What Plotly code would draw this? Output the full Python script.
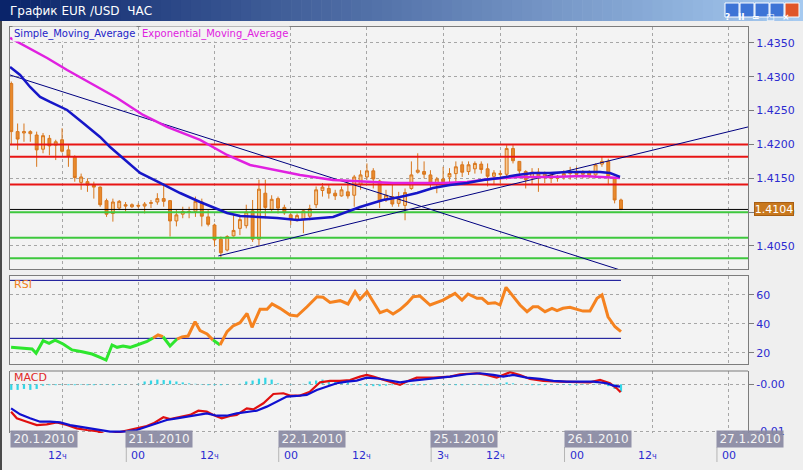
import plotly.graph_objects as go

W, H = 803, 470
FONT = "DejaVu Sans"

# ---------------- data ----------------
hours = list(range(4, 101))  # hourly candle index (0 = 20.1.2010 00:00)
open_ = [1.4290, 1.4219, 1.4217, 1.4216, 1.4214, 1.4193, 1.4209, 1.4199, 1.4207, 1.4192,
         1.4182, 1.4144, 1.4145, 1.4140, 1.4137, 1.4117, 1.4098, 1.4106, 1.4111, 1.4108,
         1.4110, 1.4109, 1.4113, 1.4115, 1.4120, 1.4117, 1.4087, 1.4097, 1.4100, 1.4101,
         1.4115, 1.4093, 1.4081, 1.4060, 1.4044, 1.4065, 1.4076, 1.4080, 1.4102, 1.4060,
         1.4128, 1.4104, 1.4120, 1.4107, 1.4096, 1.4089, 1.4089, 1.4094, 1.4111, 1.4132,
         1.4135, 1.4128, 1.4124, 1.4130, 1.4125, 1.4141, 1.4152, 1.4161, 1.4146, 1.4118,
         1.4123, 1.4113, 1.4110, 1.4135, 1.4159, 1.4160, 1.4155, 1.4143, 1.4149, 1.4152,
         1.4157, 1.4170, 1.4160, 1.4164, 1.4171, 1.4164, 1.4153, 1.4157, 1.4156, 1.4194,
         1.4175, 1.4160, 1.4152, 1.4159, 1.4151, 1.4155, 1.4150, 1.4153, 1.4157, 1.4158,
         1.4156, 1.4159, 1.4155, 1.4171, 1.4175, 1.4151, 1.4118]
high = [1.4293, 1.4231, 1.4231, 1.4221, 1.4219, 1.4217, 1.4214, 1.4207, 1.4224, 1.4199,
        1.4184, 1.4157, 1.4150, 1.4145, 1.4138, 1.4120, 1.4120, 1.4118, 1.4115, 1.4113,
        1.4113, 1.4115, 1.4118, 1.4128, 1.4143, 1.4118, 1.4103, 1.4108, 1.4108, 1.4123,
        1.4120, 1.4103, 1.4083, 1.4064, 1.4066, 1.4096, 1.4096, 1.4111, 1.4118, 1.4148,
        1.4148, 1.4125, 1.4123, 1.4111, 1.4098, 1.4098, 1.4103, 1.4111, 1.4138, 1.4143,
        1.4140, 1.4133, 1.4138, 1.4145, 1.4155, 1.4162, 1.4172, 1.4165, 1.4148, 1.4133,
        1.4143, 1.4130, 1.4135, 1.4175, 1.4187, 1.4175, 1.4162, 1.4152, 1.4167, 1.4165,
        1.4175, 1.4175, 1.4175, 1.4175, 1.4175, 1.4172, 1.4162, 1.4162, 1.4199, 1.4199,
        1.4175, 1.4162, 1.4165, 1.4165, 1.4160, 1.4157, 1.4155, 1.4162, 1.4167, 1.4167,
        1.4162, 1.4162, 1.4172, 1.4182, 1.4179, 1.4152, 1.4120]
low = [1.4199, 1.4192, 1.4204, 1.4204, 1.4167, 1.4187, 1.4184, 1.4177, 1.4188, 1.4167,
       1.4145, 1.4133, 1.4130, 1.4120, 1.4108, 1.4093, 1.4086, 1.4103, 1.4101, 1.4106,
       1.4106, 1.4098, 1.4106, 1.4111, 1.4108, 1.4064, 1.4079, 1.4091, 1.4091, 1.4093,
       1.4079, 1.4079, 1.4049, 1.4032, 1.4042, 1.4064, 1.4066, 1.4076, 1.4056, 1.4051,
       1.4091, 1.4101, 1.4098, 1.4096, 1.4081, 1.4086, 1.4069, 1.4088, 1.4106, 1.4123,
       1.4120, 1.4118, 1.4123, 1.4120, 1.4108, 1.4133, 1.4148, 1.4135, 1.4106, 1.4115,
       1.4108, 1.4108, 1.4088, 1.4133, 1.4157, 1.4150, 1.4135, 1.4128, 1.4138, 1.4140,
       1.4145, 1.4152, 1.4155, 1.4157, 1.4157, 1.4138, 1.4140, 1.4143, 1.4148, 1.4172,
       1.4150, 1.4135, 1.4140, 1.4130, 1.4143, 1.4143, 1.4145, 1.4148, 1.4148, 1.4150,
       1.4150, 1.4150, 1.4150, 1.4167, 1.4140, 1.4113, 1.4103]
close = [1.4219, 1.4208, 1.4219, 1.4219, 1.4192, 1.4213, 1.4198, 1.4204, 1.4190, 1.4183,
         1.4151, 1.4152, 1.4140, 1.4137, 1.4111, 1.4097, 1.4115, 1.4116, 1.4109, 1.4111,
         1.4109, 1.4112, 1.4114, 1.4120, 1.4116, 1.4087, 1.4096, 1.4101, 1.4101, 1.4116,
         1.4094, 1.4082, 1.4059, 1.4040, 1.4064, 1.4073, 1.4089, 1.4100, 1.4060, 1.4134,
         1.4107, 1.4119, 1.4106, 1.4099, 1.4089, 1.4095, 1.4102, 1.4105, 1.4133, 1.4137,
         1.4128, 1.4124, 1.4133, 1.4124, 1.4152, 1.4155, 1.4161, 1.4149, 1.4116, 1.4125,
         1.4112, 1.4120, 1.4129, 1.4155, 1.4162, 1.4156, 1.4141, 1.4149, 1.4145, 1.4157,
         1.4167, 1.4159, 1.4170, 1.4172, 1.4163, 1.4153, 1.4158, 1.4156, 1.4194, 1.4176,
         1.4161, 1.4148, 1.4159, 1.4151, 1.4156, 1.4150, 1.4153, 1.4157, 1.4159, 1.4156,
         1.4159, 1.4153, 1.4170, 1.4175, 1.4153, 1.4118, 1.4104]

sma_t = [3.81, 5.39, 6.96, 8.54, 10.11, 12.79, 15.31, 17.98, 19.56, 21.60,
         24.28, 27.43, 30.58, 33.73, 35.77, 37.98, 40.02, 43.17, 45.85, 49.0,
         54.66, 58.91, 62.53, 65.21, 67.89, 70.41, 73.08, 75.76, 78.28, 80.96,
         83.63, 86.15, 88.83, 91.50, 94.02, 96.70, 98.27, 99.85]
sma_v = [1.43145, 1.43027, 1.42850, 1.42702, 1.42628, 1.42510, 1.42318, 1.42111, 1.41963, 1.41801,
         1.41579, 1.41431, 1.41283, 1.41150, 1.41076, 1.40988, 1.40943, 1.40929, 1.40914, 1.40884,
         1.40929, 1.41076, 1.41180, 1.41224, 1.41283, 1.41357, 1.41402, 1.41431, 1.41476, 1.41505,
         1.41549, 1.41579, 1.41579, 1.41594, 1.41594, 1.41594, 1.41579, 1.41520]

ema_t = [3.81, 9.64, 12.79, 16.41, 20.66, 24.75, 28.53, 33.73, 37.98, 41.6, 45.85, 49.47,
         54.66, 60.02, 64.11, 67.89, 71.98, 75.76, 79.38, 83.63, 88.83, 94.02, 99.85]
ema_v = [1.43574, 1.43278, 1.43101, 1.42909, 1.42687, 1.42436, 1.42259, 1.42067, 1.41845, 1.41697,
         1.41623, 1.41549, 1.41476, 1.41446, 1.41431, 1.41431, 1.41431, 1.41446, 1.41490, 1.41520,
         1.41520, 1.41535, 1.41505]

trend_down_t = [3.8, 99.85]
trend_down_v = [1.43027, 1.40146]
trend_up_t = [36.6, 120.0]
trend_up_v = [1.40353, 1.42259]

resistance_levels = [1.4200, 1.4182, 1.4141]
support_levels = [1.4100, 1.4062, 1.4032]
last_price = 1.4104
price_ticks = [1.4050, 1.4100, 1.4150, 1.4200, 1.4250, 1.4300, 1.4350]

rsi_t = [3.97, 5.39, 7.28, 7.91, 9.01, 9.95, 10.90, 12.16, 13.57, 15.15,
         16.72, 17.98, 18.93, 19.87, 20.66, 21.60, 22.71, 23.81, 25.38, 26.33,
         27.11, 27.90, 29.00, 30.10, 30.89, 31.84, 32.94, 33.73, 34.83, 35.77,
         36.87, 37.98, 38.92, 40.02, 41.12, 41.91, 43.17, 44.27, 45.06, 46.32,
         47.89, 49.00, 50.57, 52.14, 53.09, 54.19, 55.77, 57.02, 58.13, 58.91,
         60.02, 60.96, 62.06, 63.16, 64.11, 65.21, 66.31, 67.26, 68.36, 69.94,
         71.98, 73.87, 74.97, 75.92, 77.33, 78.12, 79.07, 80.17, 80.96, 81.90,
         83.00, 84.10, 85.21, 86.15, 86.94, 88.04, 89.14, 89.93, 90.87, 91.97,
         93.08, 94.02, 95.12, 96.23, 97.01, 97.96, 99.06, 100.0]
rsi_v = [23.8, 23.1, 22.6, 19.7, 28.4, 26.5, 28.8, 26.1, 22.0, 20.8,
         19.2, 16.9, 15.0, 25.4, 23.8, 24.7, 23.8, 25.4, 27.9, 30.2,
         32.3, 31.1, 24.7, 29.5, 31.0, 31.6, 41.5, 35.3, 33.0, 28.8,
         25.4, 34.6, 38.5, 40.8, 47.2, 37.6, 50.0, 50.0, 53.7, 50.7,
         46.1, 45.4, 51.8, 58.7, 58.3, 54.8, 56.0, 53.7, 62.2, 56.9,
         62.2, 55.3, 47.7, 49.5, 46.8, 49.8, 54.1, 58.7, 59.2, 53.0,
         56.4, 61.0, 56.4, 60.6, 57.6, 57.6, 54.1, 54.6, 53.0, 65.2,
         58.7, 53.0, 48.4, 51.8, 51.8, 48.4, 50.7, 49.1, 50.7, 51.4,
         50.0, 48.8, 48.8, 57.6, 59.9, 44.9, 38.0, 34.6]
rsi_upper, rsi_lower = 70, 30
rsi_ticks = [20, 40, 60]

macd_t = [3.97, 4.87, 6.44, 8.02, 9.59, 11.17, 12.74, 14.31, 15.89, 17.46,
          19.04, 20.61, 22.19, 23.76, 25.33, 26.38, 27.95, 29.0, 30.58, 32.15,
          33.46, 34.78, 35.82, 37.14, 38.45, 39.5, 41.08, 42.12, 43.7, 45.27,
          46.84, 47.89, 49.47, 51.04, 52.62, 54.19, 55.77, 57.34, 58.91, 59.97,
          61.0, 62.59, 64.16, 65.21, 66.26, 67.84, 70.46, 73.08, 74.66, 77.29,
          78.86, 80.43, 82.53, 84.1, 85.68, 87.77, 90.4, 93.03, 95.12, 96.7,
          98.27, 99.33, 99.95]
macd_v = [-0.00293, -0.00364, -0.00400, -0.00436, -0.00428, -0.00407, -0.00436, -0.00471, -0.00489, -0.00500,
          -0.00543, -0.00518, -0.00500, -0.00471, -0.00446, -0.00418, -0.00353, -0.00371, -0.00346, -0.00328,
          -0.00282, -0.00293, -0.00328, -0.00364, -0.00339, -0.00328, -0.00257, -0.00268, -0.00203, -0.00104,
          -0.00096, -0.00121, -0.00121, -0.00079, 0.00021, 0.00036, 0.00036, 0.00046, 0.00082, 0.00100,
          0.00082, 0.00046, 0.00011, -0.00007, 0.00029, 0.00071, 0.00071, 0.00082, 0.00107, 0.00118,
          0.00100, 0.00071, 0.00129, 0.00100, 0.00057, 0.00036, 0.00029, 0.00021, 0.00021, 0.00046,
          0.00011, -0.00043, -0.00086]
signal_t = [3.97, 5.39, 6.96, 8.54, 10.11, 11.69, 13.26, 14.83, 16.41, 17.98,
            19.56, 21.13, 22.19, 23.76, 25.33, 26.91, 28.48, 30.06, 31.63, 33.21,
            34.78, 36.36, 37.93, 39.5, 41.08, 42.65, 44.23, 45.8, 47.38, 48.95,
            50.52, 52.1, 53.67, 55.25, 56.82, 58.39, 59.97, 61.54, 63.12, 65.21,
            66.79, 68.36, 70.46, 73.08, 75.71, 77.8, 79.9, 81.47, 83.05, 85.15,
            87.25, 89.35, 91.45, 93.55, 95.64, 97.75, 98.8, 99.85]
signal_v = [-0.00257, -0.00321, -0.00364, -0.00400, -0.00400, -0.00407, -0.00436, -0.00453, -0.00471, -0.00489,
            -0.00507, -0.00507, -0.00503, -0.00489, -0.00453, -0.00418, -0.00382, -0.00364, -0.00346, -0.00328,
            -0.00311, -0.00336, -0.00336, -0.00311, -0.00293, -0.00282, -0.00239, -0.00186, -0.00132, -0.00125,
            -0.00114, -0.00061, -0.00025, 0.00011, 0.00029, 0.00039, 0.00071, 0.00064, 0.00046, 0.00021,
            0.00036, 0.00046, 0.00064, 0.00082, 0.00107, 0.00118, 0.00100, 0.00082, 0.00100, 0.00071,
            0.00057, 0.00036, 0.00029, 0.00029, 0.00029, 0.00011, -0.00014, -0.00025]
macd_hist = [-0.0006, -0.0006, -0.0005, -0.0006, -0.0005,
             -0.00015, -0.0001, -0.0001, -0.00005, -0.0001, -0.0001, -0.00005, -0.0001,
             -0.0001, -0.00005, -0.00005, -0.0001, -0.00005, -0.00005, 0.0, 0.00005,
             0.0003, 0.0004, 0.0005, 0.00045, 0.0004, 0.0003, 0.0002,
             0.0001, 0.00005, -0.00005, -0.0001, -0.0001, -0.0001, -0.00005, 0.0, 0.00005,
             0.0003, 0.0004, 0.0006, 0.0007, 0.0005,
             0.0001, 0.0, -0.00005, 0.0, 0.00005,
             0.0003, 0.0004, 0.0005, 0.0004, 0.0004, 0.0003, 0.0002,
             0.0, -0.0001, -0.00015, -0.0002, -0.0002, -0.00015, -0.0001,
             0.0, -0.00005, -0.0001, -0.0001, -0.0001, -0.00005, 0.0, -0.00005,
             -0.00005, -0.0001, -0.0001, -0.00005, -0.00005, -0.0001, -0.0001, -0.00005,
             0.0001, 0.0002, 0.0001, 0.0, -0.00005, -0.0001, -0.0001, -0.0001, -0.00005,
             -0.00005, -0.00005, -0.0001, -0.0001, -0.00005, 0.0, 0.00005, 0.0, -0.0002, -0.0005,
             -0.0008]
macd_ticks = [0.0, -0.005]
macd_ticktext = ["-0.00", "-0.01"]

grid_hours = [12, 24, 36, 48, 60, 72, 81, 93, 105, 117]
hour_labels = ["12ч", "00", "12ч", "00", "12ч", "3ч", "12ч", "00", "12ч", "00"]
day_labels = ["20.1.2010", "21.1.2010", "22.1.2010", "25.1.2010", "26.1.2010", "27.1.2010"]
day_start_hours = [None, 24, 48, 72, 93, 117]

title_text = "График EUR /USD\u00a0\u00a0ЧАС"

# ---------------- geometry / style ----------------
PL, PR = 10, 748
MAIN_Y = (27, 269)
RSI_Y = (276, 364)
MACD_Y = (371, 433)
T0, T1 = 3.8, 120.0


def px(x):
    return x / W


def py(y):
    return 1 - y / H


def tx(t):
    return PL + (t - T0) / (T1 - T0) * (PR - PL)


AXIS_BLUE = "#2b2bd0"
GRID = "#a6a6a6"
FRAME = "#7c7c7c"
PLOT_BG = "#f3f3f3"

fig = go.Figure()

# main panel
fig.add_trace(go.Candlestick(
    x=hours, open=open_, high=high, low=low, close=close,
    xaxis="x", yaxis="y", whiskerwidth=0,
    increasing=dict(line=dict(color="#d8761c", width=1), fillcolor="#f6c993"),
    decreasing=dict(line=dict(color="#d8761c", width=1), fillcolor="#e8892d"),
    hoverinfo="skip", showlegend=False))

for lv in resistance_levels:
    fig.add_trace(go.Scatter(x=[T0, T1], y=[lv, lv], mode="lines", xaxis="x", yaxis="y",
                             line=dict(color="#e81414", width=2), hoverinfo="skip", showlegend=False))
for lv in support_levels:
    fig.add_trace(go.Scatter(x=[T0, T1], y=[lv, lv], mode="lines", xaxis="x", yaxis="y",
                             line=dict(color="#3ec83e", width=2), hoverinfo="skip", showlegend=False))
fig.add_trace(go.Scatter(x=[T0, T1], y=[last_price, last_price], mode="lines", xaxis="x", yaxis="y",
                         line=dict(color="#000000", width=1), hoverinfo="skip", showlegend=False))

for tt, vv in ((trend_down_t, trend_down_v), (trend_up_t, trend_up_v)):
    fig.add_trace(go.Scatter(x=tt, y=vv, mode="lines", xaxis="x", yaxis="y",
                             line=dict(color="#000080", width=1), hoverinfo="skip", showlegend=False))

fig.add_trace(go.Scatter(x=ema_t, y=ema_v, mode="lines", xaxis="x", yaxis="y",
                         line=dict(color="#e020e0", width=2.5), hoverinfo="skip", showlegend=False))
fig.add_trace(go.Scatter(x=sma_t, y=sma_v, mode="lines", xaxis="x", yaxis="y",
                         line=dict(color="#1616c8", width=2.5), hoverinfo="skip", showlegend=False))

# RSI panel
for lv in (rsi_upper, rsi_lower):
    fig.add_trace(go.Scatter(x=[T0, rsi_t[-1]], y=[lv, lv], mode="lines", xaxis="x2", yaxis="y2",
                             line=dict(color="#000090", width=1), hoverinfo="skip", showlegend=False))

RSI_LOW_C, RSI_HIGH_C = "#2ee62e", "#f5821f"
runs = []
cur_c, cx, cy = None, [], []
for i in range(len(rsi_t) - 1):
    mid = (rsi_v[i] + rsi_v[i + 1]) / 2
    c = RSI_LOW_C if mid < rsi_lower else RSI_HIGH_C
    if c != cur_c:
        if cx:
            runs.append((cur_c, cx, cy))
        cur_c, cx, cy = c, [rsi_t[i]], [rsi_v[i]]
    cx.append(rsi_t[i + 1])
    cy.append(rsi_v[i + 1])
runs.append((cur_c, cx, cy))
for c, xs, ys in runs:
    fig.add_trace(go.Scatter(x=xs, y=ys, mode="lines", xaxis="x2", yaxis="y2",
                             line=dict(color=c, width=3), hoverinfo="skip", showlegend=False))

# MACD panel
fig.add_trace(go.Bar(x=hours, y=macd_hist, xaxis="x3", yaxis="y3", width=0.35,
                     marker=dict(color="#33d6e6", line=dict(width=0)), hoverinfo="skip", showlegend=False))
fig.add_trace(go.Scatter(x=macd_t, y=macd_v, mode="lines", xaxis="x3", yaxis="y3",
                         line=dict(color="#e01010", width=2.2), hoverinfo="skip", showlegend=False))
fig.add_trace(go.Scatter(x=signal_t, y=signal_v, mode="lines", xaxis="x3", yaxis="y3",
                         line=dict(color="#1010d0", width=2.2), hoverinfo="skip", showlegend=False))

common_x = dict(range=[T0, T1], domain=[px(PL), px(PR)], tickvals=grid_hours, showticklabels=False,
                ticks="", showgrid=True, gridcolor=GRID, griddash="3px,3px", gridwidth=1,
                zeroline=False, showline=True, linecolor=FRAME, linewidth=1, mirror=True,
                fixedrange=True, automargin=False)
common_y = dict(side="right", ticks="outside", ticklen=5, tickcolor=FRAME,
                tickfont=dict(family=FONT, size=11, color=AXIS_BLUE),
                showgrid=True, gridcolor=GRID, griddash="3px,3px", gridwidth=1, zeroline=False,
                showline=True, linecolor=FRAME, linewidth=1, mirror=True, fixedrange=True,
                automargin=False)

fig.update_layout(
    width=W, height=H, margin=dict(l=0, r=0, t=0, b=0),
    paper_bgcolor="#efefef", plot_bgcolor=PLOT_BG,
    font=dict(family=FONT), showlegend=False, boxgap=0.35, barmode="overlay",
    xaxis=dict(common_x, anchor="y", rangeslider=dict(visible=False)),
    xaxis2=dict(common_x, anchor="y2"),
    xaxis3=dict(common_x, anchor="y3", showline=False),
    yaxis=dict(common_y, anchor="x", domain=[py(MAIN_Y[1]), py(MAIN_Y[0])],
               range=[1.40160, 1.43736], tickvals=price_ticks,
               ticktext=["%.4f" % v for v in price_ticks]),
    yaxis2=dict(common_y, anchor="x2", domain=[py(RSI_Y[1]), py(RSI_Y[0])],
                range=[12.3, 73.0], tickvals=rsi_ticks, ticktext=[str(v) for v in rsi_ticks]),
    yaxis3=dict(common_y, anchor="x3", domain=[py(MACD_Y[1]), py(MACD_Y[0])],
                range=[-0.00521, 0.00142], tickvals=macd_ticks, ticktext=macd_ticktext),
)

shapes = []
annotations = []

# MACD top frame line
shapes.append(dict(type="line", xref="paper", yref="paper", x0=px(PL), x1=px(PR),
                   y0=py(MACD_Y[0]), y1=py(MACD_Y[0]), line=dict(color=FRAME, width=1), layer="above"))

# title bar gradient
n = 80
c0, c1 = (10, 36, 106), (166, 202, 240)
for i in range(n):
    f = i / (n - 1)
    col = "rgb(%d,%d,%d)" % tuple(round(a + (b - a) * f) for a, b in zip(c0, c1))
    shapes.append(dict(type="rect", xref="paper", yref="paper", x0=px(i * W / n), x1=px((i + 1) * W / n + 0.6),
                       y0=py(21), y1=py(0), fillcolor=col, line=dict(width=0), layer="above"))
annotations.append(dict(text=title_text, x=px(8), y=py(11), xref="paper", yref="paper",
                        xanchor="left", yanchor="middle", showarrow=False,
                        font=dict(family=FONT, size=12, color="#ffffff")))

# window buttons
btn_icons = ["?", "II", "=", "□", "×"]
for i, ic in enumerate(btn_icons):
    x0 = 725 + i * 15
    fill = "#e0562a" if i == 4 else "#3d74d6"
    shapes.append(dict(type="rect", xref="paper", yref="paper", x0=px(x0), x1=px(x0 + 14),
                       y0=py(17), y1=py(3), fillcolor=fill, line=dict(color="#ffffff", width=1), layer="above"))
    annotations.append(dict(text="<b>%s</b>" % ic, x=px(x0 + 7), y=py(10), xref="paper", yref="paper",
                            showarrow=False, font=dict(family=FONT, size=9, color="#ffffff")))

# left window border
shapes.append(dict(type="line", xref="paper", yref="paper", x0=px(1), x1=px(1), y0=py(21), y1=py(470),
                   line=dict(color="#4a4a4a", width=2), layer="above"))

# panel labels
annotations.append(dict(text="Simple_Moving_Average", x=px(12), y=py(34), xref="paper", yref="paper",
                        xanchor="left", yanchor="middle", showarrow=False, bgcolor=PLOT_BG, borderpad=1,
                        font=dict(family=FONT, size=10, color="#2323c8")))
annotations.append(dict(text="Exponential_Moving_Average", x=px(140), y=py(34), xref="paper", yref="paper",
                        xanchor="left", yanchor="middle", showarrow=False, bgcolor=PLOT_BG, borderpad=1,
                        font=dict(family=FONT, size=10, color="#e020e0")))
annotations.append(dict(text="RSI", x=px(12), y=py(284), xref="paper", yref="paper",
                        xanchor="left", yanchor="middle", showarrow=False,
                        font=dict(family=FONT, size=11, color="#f08020")))
annotations.append(dict(text="MACD", x=px(12), y=py(377), xref="paper", yref="paper",
                        xanchor="left", yanchor="middle", showarrow=False,
                        font=dict(family=FONT, size=11, color="#e02828")))

# last price box
annotations.append(dict(text="%.4f" % last_price, x=px(774), y=last_price, xref="paper", yref="y",
                        xanchor="center", yanchor="middle", showarrow=False, bgcolor="#c8781e",
                        bordercolor="#a85e12", borderwidth=1, borderpad=0, width=38, height=12,
                        font=dict(family=FONT, size=11, color="#ffffff")))

# hour labels
for t, lab in zip(grid_hours, hour_labels):
    txt = lab.replace("ч", "<span style='font-size:8px'>ч</span>")
    annotations.append(dict(text=txt, x=t, y=py(455), xref="x3", yref="paper", showarrow=False,
                            xanchor="center", yanchor="middle", xshift=-5 if lab.startswith("12") else 0,
                            font=dict(family=FONT, size=11, color=AXIS_BLUE)))

# day boxes
for lab, t in zip(day_labels, day_start_hours):
    left = 11 if t is None else tx(t) - 12
    annotations.append(dict(text=lab, x=px(left + 33), y=py(439), xref="paper", yref="paper",
                            showarrow=False, xanchor="center", yanchor="middle",
                            bgcolor="rgba(138,138,162,0.93)", width=64, height=14, borderpad=1,
                            font=dict(family=FONT, size=12, color="#f4f4f4")))
    if t is not None:
        shapes.append(dict(type="line", xref="paper", yref="paper", x0=px(left), x1=px(left),
                           y0=py(447), y1=py(462), line=dict(color="#b4b4b4", width=1), layer="above"))

fig.update_layout(shapes=shapes, annotations=annotations)
fig.write_html("out.html",
               config={"displayModeBar": False, "staticPlot": True},
               post_script="document.body.style.margin='0';document.body.style.padding='0';"
                           "document.body.style.overflow='hidden';")
